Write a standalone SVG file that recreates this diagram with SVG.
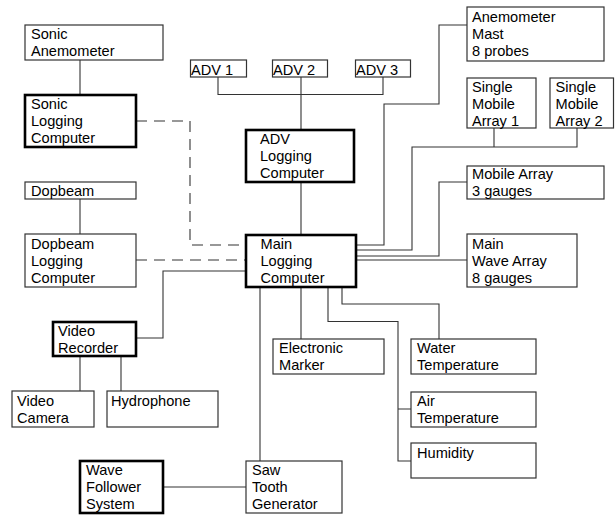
<svg xmlns="http://www.w3.org/2000/svg" width="615" height="515" viewBox="0 0 615 515">
<style>
.b{fill:#fff;stroke:#333;stroke-width:1.2}
.k{fill:#fff;stroke:#000;stroke-width:2.6}
.w{stroke:#333;stroke-width:1.1;fill:none}
.d{stroke:#333;stroke-width:1.1;fill:none;stroke-dasharray:11 7}
text{font-family:"Liberation Sans",Arial,sans-serif;font-size:14.6px;fill:#000}
</style>
<rect width="615" height="515" fill="#fff"/>
<g id="connectors">
<path class="w" d="M80 60V95"/>
<path class="w" d="M218 77V94.5H383V77M301 77V130M301 182V234"/>
<path class="d" d="M136 121H190V245H246"/>
<path class="d" d="M136 260H246"/>
<path class="w" d="M80 199V234"/>
<path class="w" d="M136 338H163V271H246"/>
<path class="w" d="M80 356V391M121 356V391"/>
<path class="w" d="M163 487H246"/>
<path class="w" d="M260 287V461M301 287V339"/>
<path class="w" d="M342 287V304H439V339"/>
<path class="w" d="M328 287V321.5H398V461H411M398 409H411"/>
<path class="w" d="M356 245H384V104H439V25H467"/>
<path class="w" d="M356 250H412V147H577V128M494 128V147"/>
<path class="w" d="M356 256H439V182H467"/>
<path class="w" d="M356 260H467"/>
</g>
<g id="sonic-anemometer"><rect class="b" x="25" y="25" width="138" height="35"/><text x="31" y="39">Sonic</text><text x="31" y="56">Anemometer</text></g>
<g id="sonic-logging"><rect class="k" x="25" y="95" width="111" height="52"/><text x="31" y="109">Sonic</text><text x="31" y="126">Logging</text><text x="31" y="143">Computer</text></g>
<g id="adv1"><rect class="b" x="190.5" y="60" width="56" height="17"/><text x="191" y="74.5">ADV 1</text></g>
<g id="adv2"><rect class="b" x="272.5" y="60" width="55" height="17"/><text x="273" y="74.5">ADV 2</text></g>
<g id="adv3"><rect class="b" x="355.5" y="60" width="55" height="17"/><text x="356" y="74.5">ADV 3</text></g>
<g id="adv-logging"><rect class="k" x="246" y="130" width="108" height="52"/><text x="260" y="144">ADV</text><text x="260" y="161">Logging</text><text x="260" y="178">Computer</text></g>
<g id="anemometer-mast"><rect class="b" x="467" y="7" width="137" height="54"/><text x="472" y="21.5">Anemometer</text><text x="472" y="38.5">Mast</text><text x="472" y="55.5">8 probes</text></g>
<g id="single-mobile-1"><rect class="b" x="467" y="78" width="69" height="50"/><text x="472" y="92">Single</text><text x="472" y="109">Mobile</text><text x="472" y="126">Array 1</text></g>
<g id="single-mobile-2"><rect class="b" x="550" y="78" width="63.5" height="50"/><text x="555.5" y="92">Single</text><text x="555.5" y="109">Mobile</text><text x="555.5" y="126">Array 2</text></g>
<g id="mobile-array"><rect class="b" x="467" y="166" width="137" height="33"/><text x="472" y="179">Mobile Array</text><text x="472" y="196">3 gauges</text></g>
<g id="dopbeam"><rect class="b" x="25" y="182" width="111" height="17"/><text x="31" y="196">Dopbeam</text></g>
<g id="dopbeam-logging"><rect class="b" x="25" y="234" width="111" height="53"/><text x="31" y="248.5">Dopbeam</text><text x="31" y="265.5">Logging</text><text x="31" y="282.5">Computer</text></g>
<g id="main-logging"><rect class="k" x="246" y="235" width="110" height="52"/><text x="260.5" y="248.5">Main</text><text x="260.5" y="265.5">Logging</text><text x="260.5" y="282.5">Computer</text></g>
<g id="main-wave-array"><rect class="b" x="467" y="234" width="110" height="53"/><text x="472" y="248.5">Main</text><text x="472" y="265.5">Wave Array</text><text x="472" y="282.5">8 gauges</text></g>
<g id="video-recorder"><rect class="k" x="53" y="322" width="83" height="34"/><text x="58" y="336">Video</text><text x="58" y="353">Recorder</text></g>
<g id="video-camera"><rect class="b" x="12" y="391" width="82" height="36"/><text x="17" y="405.5">Video</text><text x="17" y="422.5">Camera</text></g>
<g id="hydrophone"><rect class="b" x="107" y="391" width="111" height="36"/><text x="111" y="405.5">Hydrophone</text></g>
<g id="electronic-marker"><rect class="b" x="273" y="339" width="111" height="35"/><text x="279" y="353">Electronic</text><text x="279" y="370">Marker</text></g>
<g id="water-temperature"><rect class="b" x="411" y="339" width="125" height="35"/><text x="417" y="353">Water</text><text x="417" y="370">Temperature</text></g>
<g id="air-temperature"><rect class="b" x="411" y="392" width="125" height="35"/><text x="417" y="405.5">Air</text><text x="417" y="422.5">Temperature</text></g>
<g id="humidity"><rect class="b" x="411" y="443" width="125" height="35"/><text x="417" y="458">Humidity</text></g>
<g id="wave-follower"><rect class="k" x="80" y="461" width="83" height="52"/><text x="86" y="475">Wave</text><text x="86" y="492">Follower</text><text x="86" y="509">System</text></g>
<g id="saw-tooth"><rect class="b" x="246" y="461" width="96" height="52"/><text x="252" y="475">Saw</text><text x="252" y="492">Tooth</text><text x="252" y="509">Generator</text></g>
</svg>
